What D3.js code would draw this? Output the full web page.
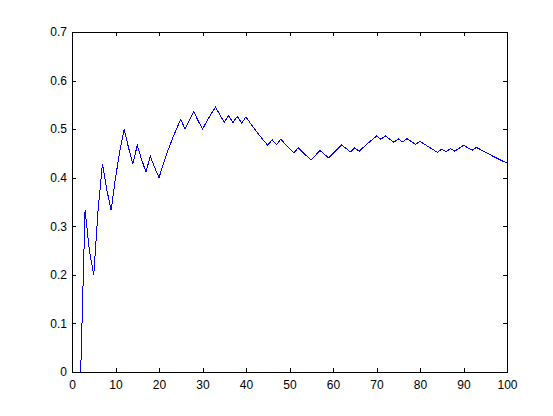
<!DOCTYPE html>
<html>
<head>
<meta charset="utf-8">
<script src="https://cdn.jsdelivr.net/npm/d3@7"></script>
<style>
  body { margin: 0; background: #fff; }
  svg text { font-family: "Liberation Sans", Arial, sans-serif; font-size: 12px; fill: #000; }
</style>
</head>
<body>
<svg width="553" height="416"></svg>
<script>
// running proportion, one value per trial n = 0..100
var trials = d3.range(0, 101);
var proportion = [
  0, 0, 0, 0.3333, 0.25, 0.2, 0.3333, 0.4286, 0.375, 0.3333,
  0.4, 0.4545, 0.5, 0.4615, 0.4286, 0.4667, 0.4375, 0.4118, 0.4444, 0.4211,
  0.4, 0.4286, 0.4545, 0.4783, 0.5, 0.52, 0.5, 0.5185, 0.5357, 0.5172,
  0.5, 0.5161, 0.5313, 0.5455, 0.5294, 0.5143, 0.5278, 0.5135, 0.5263, 0.5128,
  0.525, 0.5122, 0.5, 0.4884, 0.4773, 0.4667, 0.4783, 0.4681, 0.4792, 0.4694,
  0.46, 0.451, 0.4615, 0.4528, 0.4444, 0.4364, 0.4464, 0.4561, 0.4483, 0.4407,
  0.45, 0.459, 0.4677, 0.4603, 0.4531, 0.4615, 0.4545, 0.4627, 0.4706, 0.4783,
  0.4857, 0.4789, 0.4861, 0.4795, 0.473, 0.48, 0.4737, 0.4805, 0.4744, 0.4684,
  0.475, 0.4691, 0.4634, 0.4578, 0.4524, 0.4588, 0.4535, 0.4598, 0.4545, 0.4607,
  0.4667, 0.4615, 0.4565, 0.4624, 0.4574, 0.4526, 0.4479, 0.4433, 0.4388, 0.4343,
  0.43
];
var xTicks = [0, 10, 20, 30, 40, 50, 60, 70, 80, 90, 100];
var yTicks = [0, 0.1, 0.2, 0.3, 0.4, 0.5, 0.6, 0.7];

var svg = d3.select("svg");

var axLeft = 72, axRight = 507, axTop = 32, axBottom = 372;

var x = d3.scaleLinear().domain([0, 100]).range([axLeft, axRight]);
var y = d3.scaleLinear().domain([0, 0.7]).range([axBottom, axTop]);

var line = d3.line()
  .x(function(d, i) { return x(trials[i]); })
  .y(function(d) { return y(d); });

svg.append("path")
  .datum(proportion)
  .attr("d", line)
  .attr("fill", "none")
  .attr("stroke", "#0000ff")
  .attr("stroke-width", 1)
  .attr("shape-rendering", "crispEdges");

function styleAxis(g, showText) {
  g.select(".domain").remove();
  g.selectAll("line").attr("stroke", "#000").attr("shape-rendering", "crispEdges");
  g.selectAll("text").attr("fill", "#000").style("display", showText ? null : "none");
}

svg.append("g")
  .attr("transform", "translate(0," + axBottom + ")")
  .call(d3.axisBottom(x).tickValues(xTicks).tickFormat(d3.format("d")).tickSizeInner(-4).tickPadding(8))
  .call(styleAxis, true);

svg.append("g")
  .attr("transform", "translate(0," + axTop + ")")
  .call(d3.axisTop(x).tickValues(xTicks).tickSizeInner(-4))
  .call(styleAxis, false);

svg.append("g")
  .attr("transform", "translate(" + axLeft + ",0)")
  .call(d3.axisLeft(y).tickValues(yTicks).tickFormat(function(d) { return d === 0 ? "0" : d3.format(".1f")(d); }).tickSizeInner(-4).tickPadding(5))
  .call(styleAxis, true);

svg.append("g")
  .attr("transform", "translate(" + axRight + ",0)")
  .call(d3.axisRight(y).tickValues(yTicks).tickSizeInner(-4))
  .call(styleAxis, false);

svg.selectAll("g text").attr("font-size", 12).attr("font-family", "Liberation Sans, Arial, sans-serif");

// axes box
svg.append("rect")
  .attr("x", axLeft + 0.5).attr("y", axTop + 0.5)
  .attr("width", axRight - axLeft).attr("height", axBottom - axTop)
  .attr("fill", "none")
  .attr("stroke", "#000");
</script>
</body>
</html>
